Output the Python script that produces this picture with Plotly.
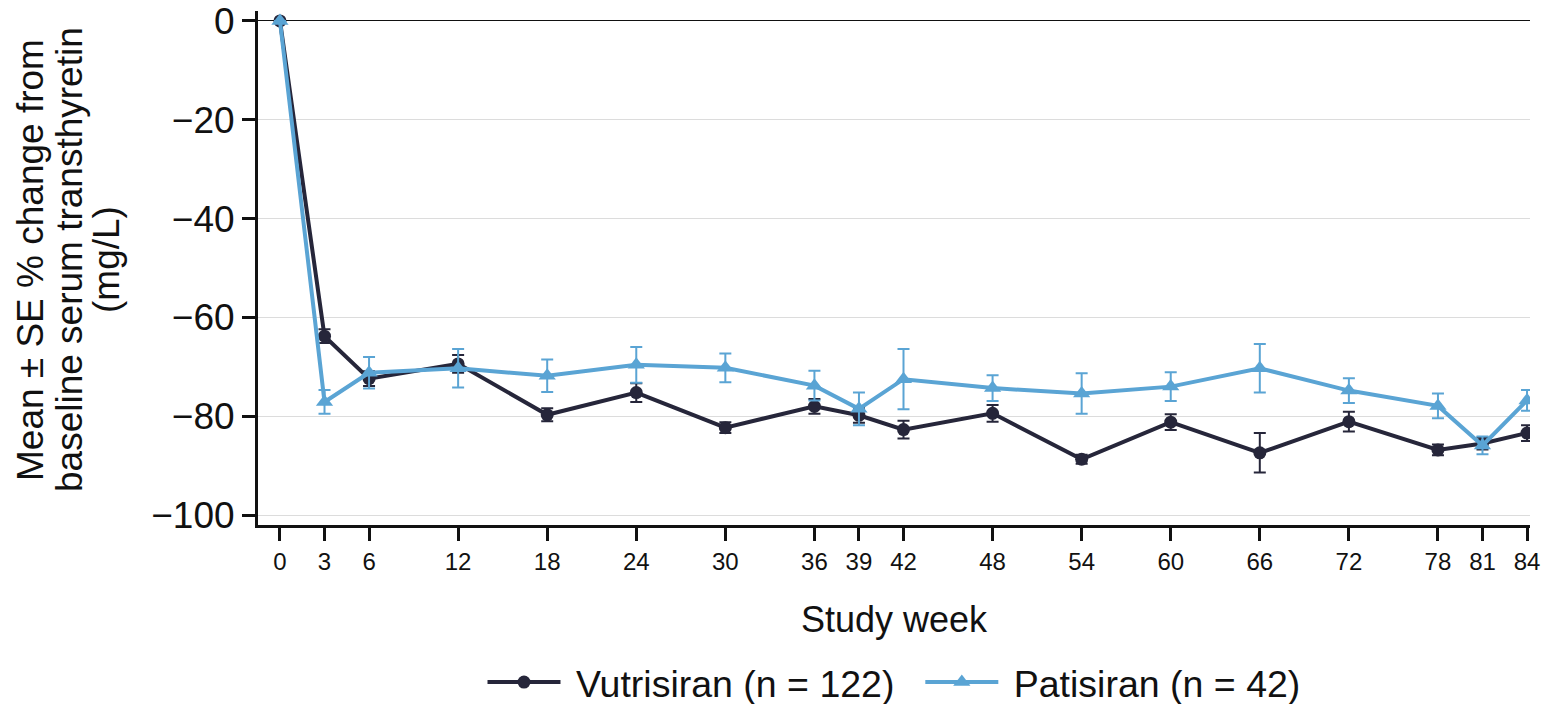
import plotly.graph_objects as go

weeks = [0, 3, 6, 12, 18, 24, 30, 36, 39, 42, 48, 54, 60, 66, 72, 78, 81, 84]
vutrisiran = [0, -63.8, -72.4, -69.4, -79.7, -75.2, -82.3, -78.0, -79.8, -82.7,
              -79.4, -88.7, -81.2, -87.4, -81.1, -86.8, -85.5, -83.4]
vutrisiran_se = [0, 1.4, 1.5, 1.8, 1.3, 1.9, 1.1, 1.5, 1.5, 1.8,
                 1.7, 0.9, 1.6, 4.0, 2.0, 1.1, 1.2, 1.6]
patisiran = [0, -77.1, -71.2, -70.3, -71.8, -69.6, -70.2, -73.8, -78.5, -72.5,
             -74.3, -75.4, -74.0, -70.3, -74.8, -77.9, -85.9, -76.8]
patisiran_se = [0, 2.4, 3.2, 3.9, 3.3, 3.6, 2.9, 3.0, 3.3, 6.1,
                2.6, 4.1, 2.9, 4.9, 2.5, 2.5, 1.8, 2.1]
y_ticks = [0, -20, -40, -60, -80, -100]
title_lines = ["Mean ± SE % change from", "baseline serum transthyretin", "(mg/L)"]
series_names = ["Vutrisiran (n = 122)", "Patisiran (n = 42)"]

DARK = "#26263a"
BLUE = "#5aa4d4"
FONT = "Liberation Sans, Arial, sans-serif"
NB = "\u00a0"

fig = go.Figure()
fig.add_trace(go.Scatter(
    x=weeks, y=vutrisiran, mode="lines+markers", name=NB + series_names[0] + NB * 2,
    line=dict(color=DARK, width=4),
    marker=dict(symbol="circle", size=13, color=DARK),
    error_y=dict(type="data", array=vutrisiran_se, visible=True, color=DARK,
                 thickness=2, width=6),
))
fig.add_trace(go.Scatter(
    x=weeks, y=patisiran, mode="lines+markers", name=NB + series_names[1],
    line=dict(color=BLUE, width=4),
    marker=dict(symbol="triangle-up", size=15, color=BLUE),
    error_y=dict(type="data", array=patisiran_se, visible=True, color=BLUE,
                 thickness=2, width=6),
))

fig.update_layout(
    width=1547, height=704,
    margin=dict(l=258, r=17, t=11, b=179, autoexpand=False),
    plot_bgcolor="white", paper_bgcolor="white",
    font=dict(family=FONT, color="#111111"),
    showlegend=True,
    legend=dict(orientation="h", x=0.5, xanchor="center", yref="container",
                y=0.031, yanchor="middle", font=dict(size=37.5, family=FONT),
                itemwidth=73, tracegroupgap=0),
)
fig.update_xaxes(
    range=[-1.48, 84.2], tickvals=weeks, ticktext=[str(w) for w in weeks],
    showgrid=False, zeroline=False, showline=True, linecolor="#111111",
    linewidth=3, ticks="outside", ticklen=13, tickwidth=3, tickcolor="#111111",
    tickfont=dict(size=24, family=FONT), automargin=False,
    title=dict(text="Study week", font=dict(size=36, family=FONT), standoff=34),
)
fig.update_yaxes(
    range=[-102, 2], tickvals=y_ticks, showgrid=True, gridcolor="#dcdcdc",
    gridwidth=1, zeroline=True, zerolinecolor="#111111", zerolinewidth=1,
    showline=True, linecolor="#111111", linewidth=3, ticks="outside",
    ticklen=13, tickwidth=3, tickcolor="#111111", automargin=False,
    tickfont=dict(size=37, family=FONT),
)

for line, px in zip(title_lines, [30, 69, 106]):
    fig.add_annotation(
        text=line, xref="paper", yref="paper", x=0, y=0.5,
        xanchor="center", yanchor="middle", xshift=px - 258, yshift=8,
        textangle=-90, showarrow=False,
        font=dict(size=37, family=FONT, color="#111111"),
    )

fig.write_html("out.html")
